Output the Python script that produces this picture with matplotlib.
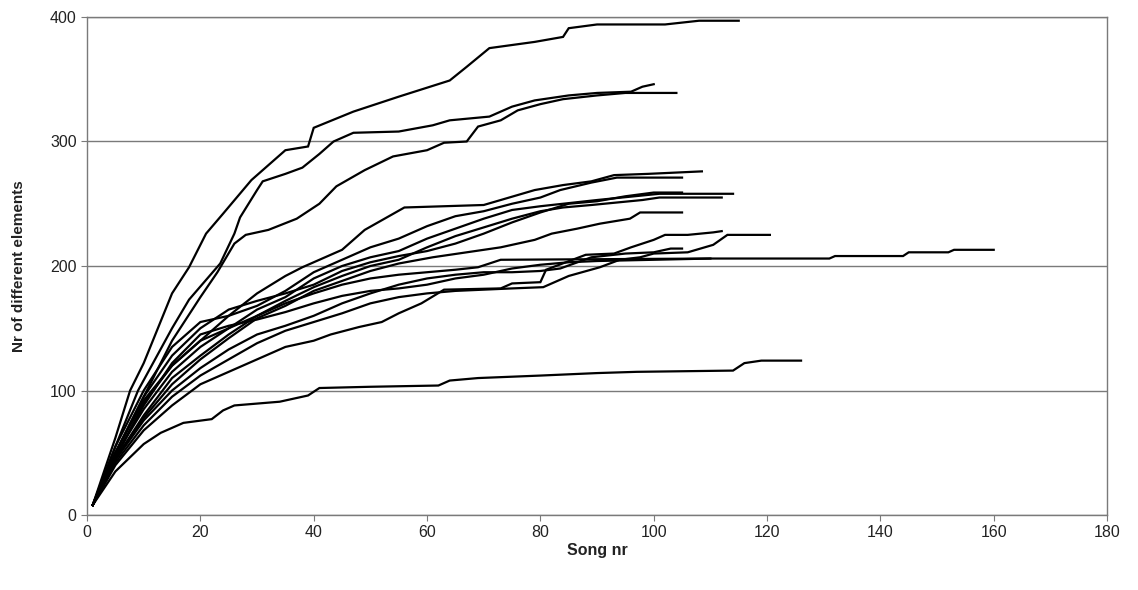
import matplotlib.pyplot as plt

plt.rcParams['font.family'] = ['Liberation Sans', 'DejaVu Sans']

# --- curvas de acumulación (canción, nº de elementos distintos) ---
a_x = [1, 5, 7.6, 10, 15, 18, 21, 24, 29, 35, 39, 40, 47, 55, 64, 67, 71, 79, 84, 85, 90, 102, 108, 115]
a_y = [8, 62, 100, 122, 178, 199, 226, 242, 269, 293, 296, 311, 324, 336, 349, 360, 375, 380, 384, 391, 394, 394, 397, 397]

b_x = [1, 5, 9, 15, 18, 23.5, 26, 27, 30, 31, 35, 38, 41, 43.5, 47, 55, 61, 64, 71, 75, 79, 85, 90, 96, 98, 100]
b_y = [8, 55, 100, 150, 173, 202, 226, 239, 261, 268, 274, 279, 290, 300, 307, 308, 313, 317, 320, 328, 333, 337, 339, 340, 344, 346]

c_x = [1, 5, 10, 15, 20, 23, 26, 28, 32, 37, 41, 44, 49, 54, 60, 63, 67, 69, 73, 76, 80, 84, 90, 95, 104]
c_y = [8, 50, 95, 140, 175, 195, 218, 225, 229, 238, 250, 264, 277, 288, 293, 299, 300, 312, 317, 325, 330, 334, 337, 339, 339]

k1_x = [1, 5, 10, 15, 20, 25, 30, 35, 38, 45, 49, 56, 70, 73, 79, 84, 89, 93, 99, 108.5]
k1_y = [8, 50, 92, 120, 140, 160, 178, 192, 199, 213, 229, 247, 249, 253, 261, 265, 268, 273, 274, 276]

k2_x = [1, 5, 10, 15, 20, 25, 30, 35, 40, 45, 50, 55, 60, 65, 70, 75, 80, 83.5, 89, 93.5, 105]
k2_y = [8, 55, 100, 135, 155, 160, 168, 180, 195, 205, 215, 222, 232, 240, 244, 250, 255, 261, 267, 271, 271]

k3_x = [1, 5, 10, 15, 20, 25, 30, 35, 40, 45, 50, 55, 60, 65, 70, 75, 80, 84, 90, 101, 114]
k3_y = [8, 48, 85, 115, 135, 150, 165, 175, 190, 200, 207, 212, 222, 230, 238, 245, 248, 250, 253, 258, 258]

k4_x = [1, 5, 10, 15, 20, 25, 30, 35, 40, 45, 50, 55, 60, 65, 70, 75, 80, 84, 89, 98, 101, 112]
k4_y = [8, 45, 80, 110, 128, 145, 160, 172, 183, 192, 200, 205, 215, 224, 231, 238, 244, 247, 249, 253, 255, 255]

k5_x = [1, 5, 10, 15, 20, 25, 30, 35, 40, 45, 50, 55, 60, 65, 70, 75, 80, 85, 90, 95, 100, 105]
k5_y = [8, 50, 95, 128, 150, 165, 172, 178, 185, 196, 203, 208, 212, 218, 226, 235, 243, 250, 252, 256, 259, 259]

k6_x = [1, 5, 10, 15, 20, 25, 30, 35, 40, 45, 50, 55, 61, 67, 73, 79, 82, 86.5, 90.5, 95.8, 97.6, 105]
k6_y = [8, 45, 78, 105, 125, 142, 158, 168, 180, 188, 196, 202, 207, 211, 215, 221, 226, 230, 234, 238, 243, 243]

k7_x = [1, 5, 10, 15, 20, 25, 30, 35, 40, 43, 48, 52, 55, 59, 63, 73, 75, 80, 81, 88, 93, 96, 100, 102, 106, 110.5, 112]
k7_y = [8, 40, 68, 88, 105, 115, 125, 135, 140, 145, 151, 155, 162, 170, 181, 182, 186, 187, 197, 209, 210, 215, 221, 225, 225, 227, 228]

k8_x = [1, 5, 10, 15, 20, 25, 30, 35, 40, 45, 50, 55, 60, 65, 70, 75, 80.5, 85, 90.5, 94, 97.6, 100, 106, 110.5, 113, 120.5]
k8_y = [8, 42, 72, 95, 112, 125, 138, 148, 155, 162, 170, 175, 178, 180, 181, 182, 183, 192, 199, 205, 207, 210, 211, 217, 225, 225]

k9_x = [1, 5, 10, 15, 20, 25, 30, 35, 40, 45, 50, 55, 60, 65, 70, 75, 80, 83.5, 89, 95, 100, 103, 105]
k9_y = [8, 44, 76, 100, 118, 133, 145, 152, 160, 170, 178, 185, 190, 193, 195, 195, 196, 198, 207, 210, 211, 214, 214]

k10_x = [1, 5, 10, 15, 20, 25, 30, 35, 40, 45, 50, 55, 60, 65, 69, 73, 110, 131, 132, 144, 145, 152, 153, 160]
k10_y = [8, 45, 90, 120, 140, 150, 160, 170, 178, 185, 190, 193, 195, 197, 199, 205, 206, 206, 208, 208, 211, 211, 213, 213]

k11_x = [1, 5, 10, 15, 20, 25, 30, 35, 40, 45, 50, 55, 60, 65, 70, 75, 80, 85, 90, 100, 110]
k11_y = [8, 47, 88, 122, 145, 152, 157, 163, 170, 176, 180, 182, 185, 190, 193, 198, 201, 203, 204, 205, 206]

low_x = [1, 5, 10, 13, 17, 22, 24, 26, 34, 39, 41, 50, 62, 64, 69, 80, 90, 97, 114, 116, 119, 126]
low_y = [8, 35, 57, 66, 74, 77, 84, 88, 91, 96, 102, 103, 104, 108, 110, 112, 114, 115, 116, 122, 124, 124]

curvas = [
    (a_x, a_y), (b_x, b_y), (c_x, c_y),
    (k1_x, k1_y), (k2_x, k2_y), (k3_x, k3_y), (k4_x, k4_y),
    (k5_x, k5_y), (k6_x, k6_y), (k7_x, k7_y), (k8_x, k8_y),
    (k9_x, k9_y), (k10_x, k10_y), (k11_x, k11_y), (low_x, low_y),
]

fig = plt.figure(figsize=(11.38, 5.90), dpi=100)
ax = fig.add_axes([0.0765, 0.1271, 0.8963, 0.8441])

for xs, ys in curvas:
    ax.plot(xs, ys, color='black', linewidth=1.6, solid_joinstyle='miter')

ax.set_xlim(0, 180)
ax.set_ylim(0, 400)
ax.set_xticks(range(0, 181, 20))
ax.set_yticks(range(0, 401, 100))
ax.yaxis.grid(True, color='#7a7a7a', linewidth=1.0)
ax.set_axisbelow(True)

for s in ax.spines.values():
    s.set_color('#7a7a7a')
    s.set_linewidth(1.0)

ax.tick_params(axis='both', direction='out', length=4, color='#7a7a7a',
               labelsize=11.5, labelcolor='#222222')

ax.set_xlabel('Song nr', fontsize=11.5, fontweight='bold', color='#222222', labelpad=2)
ax.set_ylabel('Nr of different elements', fontsize=11, fontweight='bold', color='#222222', labelpad=17)

fig.savefig('out.png', dpi=100)
